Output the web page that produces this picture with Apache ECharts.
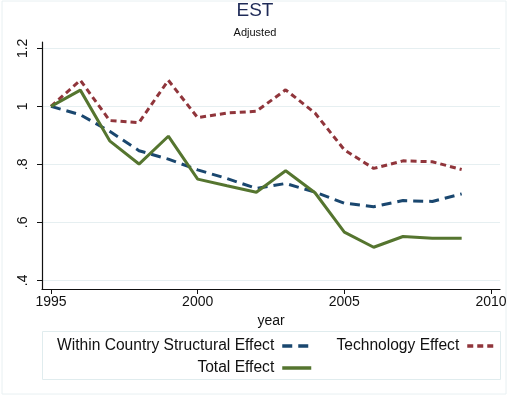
<!DOCTYPE html>
<html>
<head>
<meta charset="utf-8">
<script src="https://cdn.jsdelivr.net/npm/echarts@6/dist/echarts.min.js"></script>
<style>html,body{margin:0;padding:0;background:#fff}#c{width:510px;height:405px}</style>
</head>
<body>
<div id="c"></div>
<script>
const years = [1995,1996,1997,1998,1999,2000,2001,2002,2003,2004,2005,2006,2007,2008,2009];
const structural = [1.000,0.971,0.914,0.847,0.818,0.781,0.751,0.717,0.734,0.704,0.666,0.654,0.675,0.672,0.698];
const technology = [1.000,1.090,0.951,0.944,1.090,0.961,0.977,0.983,1.057,0.977,0.850,0.786,0.812,0.809,0.782];
const total = [1.000,1.056,0.881,0.801,0.897,0.749,0.726,0.704,0.778,0.702,0.566,0.514,0.551,0.545,0.545];
const xTicks = [1995,2000,2005,2010];
const yTicks = [0.4,0.6,0.8,1.0,1.2];
const names = ['Within Country Structural Effect','Technology Effect','Total Effect'];

const font = 'Liberation Sans, Arial, sans-serif';
const pair = arr => years.map((y,i)=>[y,arr[i]]);
const fmtY = v => { const s = (Math.round(v*10)/10).toString(); return s.startsWith('0') ? s.slice(1) : s; };
const fmtX = v => String(Math.round(v));

const chart = echarts.init(document.getElementById('c'));
const legendBase = {
  orient:'horizontal', align:'right', padding:0, itemWidth:29, itemHeight:14, itemGap:0,
  textStyle:{fontFamily:font, fontSize:15.6, color:'#111', padding:[0,3,0,0]},
  itemStyle:{opacity:0},
  lineStyle:{width:3.5},
  selectedMode:false
};
chart.setOption({
  backgroundColor:'#fff',
  animation:false,
  title:[
    {text:'EST', left:'center', top:-4, textStyle:{fontFamily:font, fontSize:19, fontWeight:'normal', color:'#1e2a57'}},
    {text:'Adjusted', left:'center', top:22, textStyle:{fontFamily:font, fontSize:11, fontWeight:'normal', color:'#111'}}
  ],
  graphic:[
    {type:'rect', shape:{x:2, y:1, width:504, height:393}, style:{fill:'none', stroke:'#e8f0f2', lineWidth:1}, silent:true, z:-1},
    {type:'rect', shape:{x:42.5, y:331.5, width:458, height:48}, style:{fill:'none', stroke:'#e0ecee', lineWidth:1}, silent:true, z:-1}
  ],
  legend:[
    Object.assign({}, legendBase, {data:[names[0]], right:197, top:338}),
    Object.assign({}, legendBase, {data:[names[1]], right:12, top:338}),
    Object.assign({}, legendBase, {data:[names[2]], right:197, top:360})
  ],
  grid:{left:42, right:10, top:42, bottom:116, containLabel:false},
  xAxis:{
    type:'value', min:1994.693, max:2010.307,
    name:'year', nameLocation:'middle', nameGap:24,
    nameTextStyle:{fontFamily:font, fontSize:14, color:'#111'},
    axisLine:{show:true, onZero:false, lineStyle:{color:'#111', width:1.2}},
    axisTick:{show:true, length:5, customValues:xTicks, lineStyle:{color:'#111'}},
    axisLabel:{customValues:xTicks, formatter:fmtX, fontFamily:font, fontSize:14, color:'#111', margin:6},
    splitLine:{show:false}
  },
  yAxis:{
    type:'value', min:0.370, max:1.222,
    axisLine:{show:true, onZero:false, lineStyle:{color:'#111', width:1.2}},
    axisTick:{show:true, length:5, customValues:yTicks, lineStyle:{color:'#111'}},
    axisLabel:{customValues:yTicks, rotate:90, formatter:fmtY, fontFamily:font, fontSize:14, color:'#111', margin:12},
    splitLine:{show:true, lineStyle:{color:'#e6eff1', width:1.2}}
  },
  series:[
    {name:names[0], type:'line', data:pair(structural), symbol:'none', showSymbol:false,
     lineStyle:{color:'#1a476f', width:3, type:[10,6]}, itemStyle:{color:'#1a476f'}, z:3},
    {name:names[1], type:'line', data:pair(technology), symbol:'none', showSymbol:false,
     lineStyle:{color:'#90353b', width:3, type:[6,4]}, itemStyle:{color:'#90353b'}, z:2},
    {name:names[2], type:'line', data:pair(total), symbol:'none', showSymbol:false,
     lineStyle:{color:'#55752f', width:3, type:'solid'}, itemStyle:{color:'#55752f'}, z:4}
  ]
});
</script>
</body>
</html>
